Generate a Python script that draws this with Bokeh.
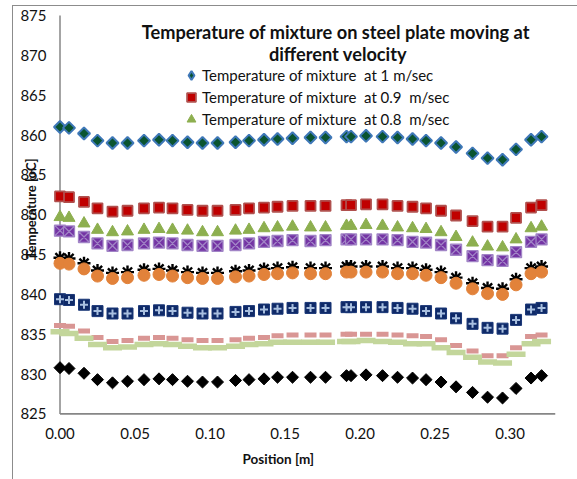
import math
from bokeh.plotting import figure
from bokeh.models import (ColumnDataSource, FixedTicker, NumeralTickFormatter, Label,
                          Legend, LegendItem, Title, InlineStyleSheet)
from bokeh.embed import file_html
from bokeh.resources import INLINE

# ---------------- data ----------------
position = [0.000, 0.006, 0.016, 0.025, 0.035, 0.045, 0.056, 0.066, 0.075, 0.085,
            0.095, 0.105, 0.117, 0.126, 0.136, 0.145, 0.155, 0.167, 0.177, 0.191,
            0.194, 0.204, 0.215, 0.225, 0.235, 0.244, 0.254, 0.264, 0.275, 0.285,
            0.295, 0.304, 0.314, 0.321]

t_1_0 = [861.0, 860.9, 860.2, 859.3, 859.0, 859.0, 859.3, 859.4, 859.3, 859.1,
         859.0, 859.0, 859.1, 859.3, 859.4, 859.5, 859.6, 859.7, 859.7, 859.8,
         859.8, 859.9, 859.8, 859.7, 859.5, 859.3, 859.0, 858.5, 857.7, 857.1,
         856.9, 858.2, 859.4, 859.8]
t_0_9 = [852.3, 852.2, 851.6, 850.8, 850.4, 850.5, 850.8, 850.9, 850.8, 850.6,
         850.5, 850.5, 850.6, 850.8, 850.9, 851.0, 851.1, 851.1, 851.1, 851.2,
         851.2, 851.3, 851.3, 851.1, 851.0, 850.8, 850.5, 849.9, 849.2, 848.5,
         848.5, 849.6, 850.9, 851.2]
t_0_8 = [849.7, 849.6, 848.9, 848.1, 847.8, 847.9, 848.1, 848.2, 848.1, 848.0,
         847.8, 847.8, 848.0, 848.1, 848.3, 848.4, 848.5, 848.4, 848.4, 848.6,
         848.6, 848.7, 848.6, 848.4, 848.3, 848.2, 847.8, 847.2, 846.5, 846.0,
         845.9, 846.9, 848.3, 848.5]
t_s4 = [848.0, 847.9, 847.2, 846.4, 846.1, 846.2, 846.4, 846.5, 846.4, 846.2,
        846.1, 846.1, 846.2, 846.4, 846.6, 846.7, 846.8, 846.7, 846.8, 846.9,
        846.9, 846.9, 846.9, 846.8, 846.6, 846.5, 846.2, 845.6, 844.8, 844.3,
        844.2, 845.3, 846.6, 846.9]
t_s5 = [844.6, 844.5, 843.9, 843.0, 842.7, 842.8, 843.1, 843.2, 843.0, 842.8,
        842.7, 842.7, 842.9, 843.0, 843.2, 843.3, 843.4, 843.3, 843.3, 843.5,
        843.5, 843.5, 843.5, 843.3, 843.3, 843.1, 842.8, 842.1, 841.4, 840.8,
        840.7, 841.9, 843.3, 843.5]
t_s6 = [843.9, 843.8, 843.2, 842.3, 842.0, 842.1, 842.4, 842.5, 842.3, 842.1,
        842.0, 842.0, 842.2, 842.3, 842.5, 842.6, 842.7, 842.6, 842.6, 842.8,
        842.8, 842.8, 842.8, 842.6, 842.6, 842.4, 842.1, 841.4, 840.7, 840.1,
        840.0, 841.2, 842.6, 842.8]
t_s7 = [839.4, 839.3, 838.7, 837.9, 837.6, 837.6, 837.9, 838.0, 837.9, 837.7,
        837.6, 837.6, 837.8, 837.9, 838.1, 838.2, 838.3, 838.3, 838.3, 838.4,
        838.4, 838.4, 838.4, 838.3, 838.2, 837.9, 837.6, 837.0, 836.3, 835.8,
        835.7, 836.8, 838.1, 838.3]
t_s8 = [836.1, 836.0, 835.4, 834.6, 834.1, 834.2, 834.5, 834.6, 834.5, 834.3,
        834.2, 834.2, 834.3, 834.5, 834.6, 834.8, 834.9, 834.9, 834.9, 835.0,
        835.0, 835.0, 835.0, 834.9, 834.8, 834.7, 834.3, 833.6, 832.9, 832.3,
        832.3, 833.3, 834.7, 834.9]
t_s9 = [835.3, 835.1, 834.5, 833.7, 833.3, 833.4, 833.7, 833.8, 833.7, 833.5,
        833.3, 833.3, 833.5, 833.7, 833.8, 834.0, 834.0, 834.0, 834.0, 834.1,
        834.1, 834.2, 834.1, 834.0, 833.8, 833.8, 833.3, 832.7, 832.1, 831.5,
        831.4, 832.5, 833.8, 834.1]
t_s10 = [830.8, 830.7, 830.1, 829.3, 828.9, 829.1, 829.3, 829.4, 829.3, 829.1,
         829.0, 829.0, 829.2, 829.3, 829.4, 829.6, 829.6, 829.6, 829.6, 829.8,
         829.8, 829.9, 829.8, 829.6, 829.5, 829.3, 829.0, 828.4, 827.7, 827.1,
         827.0, 828.2, 829.5, 829.8]

legend_labels = ["Temperature of mixture  at 1 m/sec",
                 "Temperature of mixture  at 0.9  m/sec",
                 "Temperature of mixture  at 0.8  m/sec"]
y_ticks = [825, 830, 835, 840, 845, 850, 855, 860, 865, 870, 875]
x_ticks = [0.0, 0.05, 0.10, 0.15, 0.20, 0.25, 0.30]
title_lines = ["Temperature of mixture on steel plate moving  at", "different velocity"]
x_title = "Position [m]"
y_title = "Temperature [oC]"

FONT = "Lato"
INK = "#111111"
AXIS_GREY = "#868686"
X_END = 0.3303

src = ColumnDataSource(dict(x=position, a=t_1_0, b=t_0_9, c=t_0_8, d=t_s4, e=t_s5,
                            f=t_s6, g=t_s7, h=t_s8, i=t_s9, j=t_s10))

p = figure(width=577, height=479, output_backend="svg", toolbar_location=None,
           x_range=(-0.007, X_END), y_range=(824.8, 876.76),
           min_border_left=49, min_border_right=22, min_border_top=1, min_border_bottom=64,
           background_fill_color="white", border_fill_color="white")
p.outline_line_color = None
p.grid.visible = False

for ax in (p.xaxis[0], p.yaxis[0]):
    ax.axis_line_color = None
    ax.major_tick_line_color = None
    ax.minor_tick_line_color = None
    ax.major_tick_out = 0
    ax.major_tick_in = 0
    ax.major_label_text_font = FONT
    ax.major_label_text_font_size = "15px"
    ax.major_label_text_color = INK
p.yaxis.ticker = FixedTicker(ticks=y_ticks)
p.xaxis.ticker = FixedTicker(ticks=x_ticks)
p.xaxis.formatter = NumeralTickFormatter(format="0.00")
p.yaxis.major_label_standoff = 3
p.xaxis.major_label_standoff = 12

# y axis title overlapping the tick labels, as in the original
p.yaxis.axis_label = y_title
p.yaxis.axis_label_standoff = -22
p.yaxis.axis_label_text_font = FONT
p.yaxis.axis_label_text_font_size = "13px"
p.yaxis.axis_label_text_font_style = "bold"
p.yaxis.axis_label_text_color = INK

# x axis title
p.add_layout(Title(text=x_title, align="left", offset=193, standoff=14,
                   text_font=FONT, text_font_size="13.5px", text_font_style="bold",
                   text_color=INK), "below")

# axis lines (x = 0 and y = 825)
p.segment(x0=[x_ticks[0]], y0=[y_ticks[0]], x1=[x_ticks[0]], y1=[y_ticks[-1]],
          line_color=AXIS_GREY, line_width=1.5)
p.segment(x0=[x_ticks[0]], y0=[y_ticks[0]], x1=[X_END], y1=[y_ticks[0]],
          line_color=AXIS_GREY, line_width=1.6)

Q = math.pi / 4
p.scatter("x", "a", source=src, marker="square", angle=Q, size=8.5,
          fill_color="#0A5430", line_color="#3F78B8", line_width=2)
r2 = p.scatter("x", "b", source=src, marker="square", size=10,
               fill_color="#C00000", line_color="#B0504E", line_width=1.8)
r3 = p.scatter("x", "c", source=src, marker="triangle", size=12,
               fill_color="#8DAF4F", line_color="#8DAF4F", line_width=1)
p.scatter("x", "d", source=src, marker="square_x", size=11,
          fill_color="#7434A4", line_color="#A184C6", line_width=1.3)
p.scatter("x", "e", source=src, marker="asterisk", size=13,
          line_color="#000000", line_width=2.4)
p.scatter("x", "f", source=src, marker="circle", size=12,
          fill_color="#E2823A", line_color="#E2823A", line_width=1)
p.scatter("x", "g", source=src, marker="square", size=11,
          fill_color="#0F2A68", line_color="#1B3878", line_width=1)
p.scatter("x", "g", source=src, marker="cross", size=8,
          line_color="#A9C0E0", line_width=2)
p.scatter("x", "h", source=src, marker="dash", size=12,
          line_color="#D99694", line_width=5)
p.scatter("x", "i", source=src, marker="dash", size=19,
          line_color="#C3D69B", line_width=5.5)
p.scatter("x", "j", source=src, marker="square", angle=Q, size=8.5,
          fill_color="#000000", line_color="#000000", line_width=1)

# legend swatch for the diamond series (legend glyphs are drawn unrotated)
r1_key = p.scatter("x", "a", source=src, marker="diamond", size=12, visible=False,
                   fill_color="#0A5430", line_color="#3F78B8", line_width=2)

legend = Legend(items=[LegendItem(label=legend_labels[0], renderers=[r1_key]),
                       LegendItem(label=legend_labels[1], renderers=[r2]),
                       LegendItem(label=legend_labels[2], renderers=[r3])],
                location=(131, 285), orientation="vertical",
                background_fill_alpha=0, border_line_alpha=0, padding=0, margin=0,
                spacing=0, glyph_width=22, glyph_height=22, label_height=22,
                label_standoff=-2, label_text_font=FONT, label_text_font_size="15px",
                label_text_color=INK)
p.add_layout(legend)

# chart title (two lines, centred over the plot)
p.add_layout(Label(x=0.1853, y=872.99, text=title_lines[0], text_align="center",
                   text_baseline="middle", text_font=FONT, text_font_size="18.2px",
                   text_font_style="bold", text_color=INK))
p.add_layout(Label(x=0.1853, y=870.23, text=title_lines[1], text_align="center",
                   text_baseline="middle", text_font=FONT, text_font_size="18.2px",
                   text_font_style="bold", text_color=INK))

# outer chart-area border (top and left edges)
p.stylesheets = [InlineStyleSheet(css=(
    ":host::after { content: ''; position: absolute; left: 12px; top: 5px; right: 0; bottom: 0;"
    " border-left: 1.5px solid #8c8c8c; border-top: 1.5px solid #8c8c8c;"
    " pointer-events: none; z-index: 5; }"))]

open("out.html", "w").write(file_html(p, INLINE))
